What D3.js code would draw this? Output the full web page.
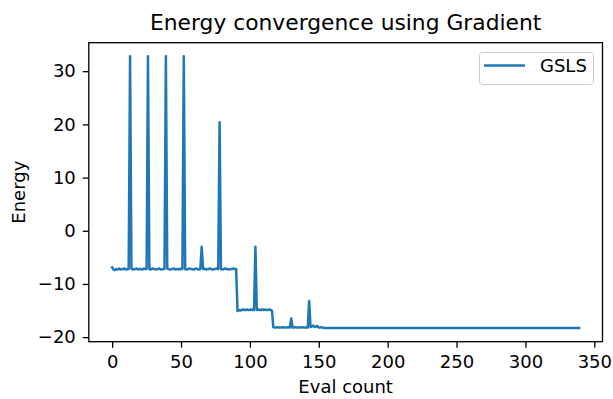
<!DOCTYPE html>
<html>
<head>
<meta charset="utf-8">
<script src="https://cdn.jsdelivr.net/npm/d3@7"></script>
<style>
  html, body { margin: 0; padding: 0; background: #fff; }
  svg { display: block; }
  text { font-family: "DejaVu Sans", sans-serif; fill: #000; }
</style>
</head>
<body>
<svg id="chart" width="613" height="399"></svg>
<script>
// ---- data ----
const seriesName = "GSLS";
const titleText = "Energy convergence using Gradient";
const xLabel = "Eval count";
const yLabel = "Energy";
const xTicks = [0, 50, 100, 150, 200, 250, 300, 350];
const yTicks = [-20, -10, 0, 10, 20, 30];

const energy = [
  -6.9, -7.3, -7.4, -7.2, -7.3, -7.1, -7.3, -7.2, -7.2, -7.1, -7.3, -7.2, -7.2,
  32.8,
  -7.1, -7.3, -7.2, -7.2, -7.1, -7.3, -7.2, -7.2, -7.3, -7.1, -7.2, -7.2,
  32.8,
  -7.2, -7.3, -7.1, -7.2, -7.2, -7.3, -7.2, -7.1, -7.2, -7.3, -7.2, -7.2,
  32.8,
  -7.1, -7.2, -7.3, -7.2, -7.2, -7.1, -7.3, -7.2, -7.2, -7.3, -7.1, -7.2,
  32.8,
  -7.2, -7.3, -7.2, -7.1, -7.2, -7.2, -7.3, -7.2, -7.1, -7.2, -7.3, -7.2,
  -3.0,
  -7.2, -7.1, -7.3, -7.2, -7.2, -7.1, -7.2, -7.3, -7.2, -7.2, -7.1, -7.2,
  20.4,
  -7.2, -7.3, -7.2, -7.1, -7.2, -7.2, -7.3, -7.2, -7.2, -7.1, -7.2, -7.2,
  -15.1, -14.9, -15.0, -14.9, -14.8, -14.9, -14.9, -14.8, -14.9, -14.9, -14.8, -14.9, -14.9,
  -3.0,
  -14.9, -14.8, -14.9, -14.9, -14.8, -14.9, -14.8, -14.9, -14.9, -14.8, -14.9, -15.0,
  -18.1, -18.2, -18.2, -18.1, -18.2, -18.2, -18.2, -18.1, -18.2, -18.2, -18.2, -18.1, -18.2,
  -16.5,
  -18.2, -18.2, -18.1, -18.2, -18.2, -18.2, -18.2, -18.1, -18.2, -18.2, -18.2, -18.2,
  -13.2,
  -18.1, -18.0, -17.8, -18.1, -18.0, -17.9, -18.2, -18.2, -18.1, -18.2, -18.3,
  -18.3, -18.3, -18.3, -18.3, -18.3, -18.3, -18.3, -18.3, -18.3, -18.3, -18.3, -18.3, -18.3, -18.3, -18.3, -18.3, -18.3, -18.3, -18.3, -18.3,
  -18.3, -18.3, -18.3, -18.3, -18.3, -18.3, -18.3, -18.3, -18.3, -18.3, -18.3, -18.3, -18.3, -18.3, -18.3, -18.3, -18.3, -18.3, -18.3, -18.3,
  -18.3, -18.3, -18.3, -18.3, -18.3, -18.3, -18.3, -18.3, -18.3, -18.3, -18.3, -18.3, -18.3, -18.3, -18.3, -18.3, -18.3, -18.3, -18.3, -18.3,
  -18.3, -18.3, -18.3, -18.3, -18.3, -18.3, -18.3, -18.3, -18.3, -18.3, -18.3, -18.3, -18.3, -18.3, -18.3, -18.3, -18.3, -18.3, -18.3, -18.3,
  -18.3, -18.3, -18.3, -18.3, -18.3, -18.3, -18.3, -18.3, -18.3, -18.3, -18.3, -18.3, -18.3, -18.3, -18.3, -18.3, -18.3, -18.3, -18.3, -18.3,
  -18.3, -18.3, -18.3, -18.3, -18.3, -18.3, -18.3, -18.3, -18.3, -18.3, -18.3, -18.3, -18.3, -18.3, -18.3, -18.3, -18.3, -18.3, -18.3, -18.3,
  -18.3, -18.3, -18.3, -18.3, -18.3, -18.3, -18.3, -18.3, -18.3, -18.3, -18.3, -18.3, -18.3, -18.3, -18.3, -18.3, -18.3, -18.3, -18.3, -18.3,
  -18.3, -18.3, -18.3, -18.3, -18.3, -18.3, -18.3, -18.3, -18.3, -18.3, -18.3, -18.3, -18.3, -18.3, -18.3, -18.3, -18.3, -18.3, -18.3, -18.3,
  -18.3, -18.3, -18.3, -18.3, -18.3, -18.3, -18.3, -18.3, -18.3, -18.3, -18.3, -18.3, -18.3, -18.3, -18.3, -18.3, -18.3, -18.3, -18.3, -18.3,
  -18.3, -18.3, -18.3, -18.3, -18.3
];
const evalCount = energy.map((_, i) => i);

// ---- layout ----
const W = 613, H = 399;
const plot = { left: 88.8, right: 602.5, top: 42.7, bottom: 341.7 };
const lineColor = "#1f77b4";
const fs = 18;

const svg = d3.select("#chart");

// matplotlib-like 5% margins
const xExt = d3.extent(evalCount), yExt = d3.extent(energy);
const xPad = (xExt[1] - xExt[0]) * 0.05, yPad = (yExt[1] - yExt[0]) * 0.05;
const x = d3.scaleLinear().domain([xExt[0] - xPad, xExt[1] + xPad]).range([plot.left, plot.right]);
const y = d3.scaleLinear().domain([yExt[0] - yPad, yExt[1] + yPad]).range([plot.bottom, plot.top]);

const fmt = v => (v < 0 ? "\u2212" + Math.abs(v) : String(v));

// line
const line = d3.line().x((d, i) => x(evalCount[i])).y(d => y(d));
svg.append("path")
  .datum(energy)
  .attr("d", line)
  .attr("fill", "none")
  .attr("stroke", lineColor)
  .attr("stroke-width", 2.5)
  .attr("stroke-linejoin", "round")
  .attr("stroke-linecap", "square");

// axes
const xAxis = d3.axisBottom(x).tickValues(xTicks).tickFormat(fmt).tickSizeInner(6).tickSizeOuter(0).tickPadding(8);
const yAxis = d3.axisLeft(y).tickValues(yTicks).tickFormat(fmt).tickSizeInner(6).tickSizeOuter(0).tickPadding(7);

const gx = svg.append("g").attr("transform", `translate(0,${plot.bottom})`).call(xAxis);
const gy = svg.append("g").attr("transform", `translate(${plot.left},0)`).call(yAxis);
[gx, gy].forEach(g => {
  g.select(".domain").remove();
  g.selectAll(".tick line").attr("stroke", "#000").attr("stroke-width", 1.3);
  g.selectAll(".tick text").attr("font-family", "DejaVu Sans").attr("font-size", fs).attr("fill", "#000");
});

// frame (spines)
svg.append("rect")
  .attr("x", plot.left).attr("y", plot.top)
  .attr("width", plot.right - plot.left).attr("height", plot.bottom - plot.top)
  .attr("fill", "none").attr("stroke", "#000").attr("stroke-width", 1.3);

// title and labels
svg.append("text")
  .attr("x", (plot.left + plot.right) / 2).attr("y", 30)
  .attr("text-anchor", "middle").attr("font-size", 21.8)
  .text(titleText);

svg.append("text")
  .attr("x", (plot.left + plot.right) / 2).attr("y", 393)
  .attr("text-anchor", "middle").attr("font-size", fs)
  .text(xLabel);

svg.append("text")
  .attr("transform", `translate(25,${(plot.top + plot.bottom) / 2}) rotate(-90)`)
  .attr("text-anchor", "middle").attr("font-size", fs)
  .text(yLabel);

// legend
const lg = svg.append("g");
lg.append("rect")
  .attr("x", 479.5).attr("y", 52.5).attr("width", 114).attr("height", 32)
  .attr("rx", 3).attr("fill", "#fff").attr("fill-opacity", 0.8)
  .attr("stroke", "#cccccc").attr("stroke-width", 1);
lg.append("line")
  .attr("x1", 484).attr("x2", 525).attr("y1", 65.5).attr("y2", 65.5)
  .attr("stroke", lineColor).attr("stroke-width", 2.5);
lg.append("text")
  .attr("x", 540).attr("y", 71.5).attr("font-size", fs)
  .text(seriesName);
</script>
</body>
</html>
